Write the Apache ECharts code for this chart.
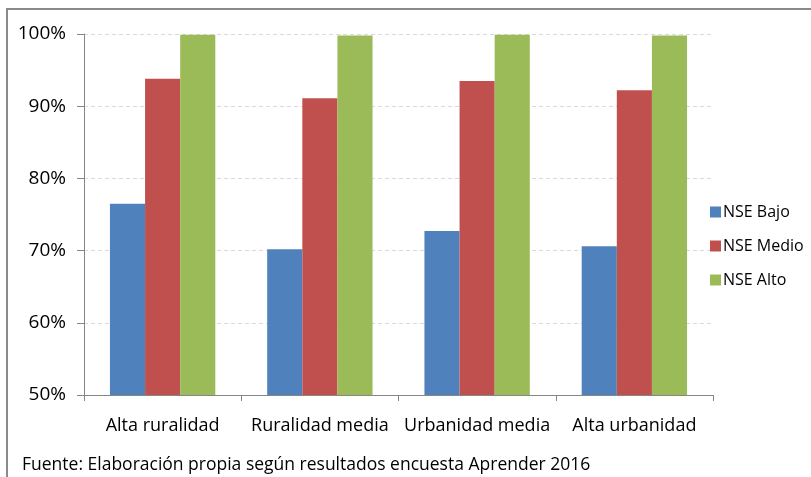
<!DOCTYPE html>
<html><head><meta charset="utf-8">
<script src="https://cdn.jsdelivr.net/npm/echarts@6/dist/echarts.min.js"></script>
<style>html,body{margin:0;padding:0;background:#fff}#c{width:811px;height:477px}</style>
</head><body><div id="c"></div>
<script>
var categories = ['Alta ruralidad', 'Ruralidad media', 'Urbanidad media', 'Alta urbanidad'];
var nseBajo = [76.5, 70.2, 72.7, 70.6];
var nseMedio = [93.8, 91.1, 93.5, 92.2];
var nseAlto = [99.9, 99.8, 99.9, 99.8];
var seriesNames = ['NSE Bajo', 'NSE Medio', 'NSE Alto'];
var sourceText = 'Fuente: Elaboración propia según resultados encuesta Aprender 2016';

var font = 'Open Sans';
var chart = echarts.init(document.getElementById('c'));
chart.setOption({
  animation: false,
  textStyle: {fontFamily: font},
  color: ['#4f81bd', '#c0504d', '#9bbb59'],
  grid: {left: 84, right: 98, top: 34, bottom: 82},
  legend: {
    orient: 'vertical', left: 705, top: 199, itemWidth: 11, itemHeight: 11, itemGap: 18,
    icon: 'rect', textStyle: {fontSize: 16, color: '#000', fontFamily: font, padding: [0, 0, 0, -3]},
    data: seriesNames
  },
  graphic: [
    {type: 'rect', shape: {x: 7, y: 9, width: 820, height: 480}, style: {fill: 'none', stroke: '#8a8a8a', lineWidth: 2}},
    {type: 'text', left: 22, top: 456, style: {text: sourceText, fontSize: 17.5, fill: '#000', fontFamily: font}}
  ],
  xAxis: {
    type: 'category', data: categories,
    axisLine: {lineStyle: {color: '#868686'}},
    axisTick: {show: true, length: 6, lineStyle: {color: '#868686'}},
    axisLabel: {fontSize: 18, color: '#000', margin: 22, interval: 0}
  },
  yAxis: {
    type: 'value', min: 50, max: 100, interval: 10,
    axisLine: {show: true, lineStyle: {color: '#868686'}},
    axisTick: {show: true, length: 7, lineStyle: {color: '#868686'}},
    axisLabel: {fontSize: 19, color: '#000', margin: 18, formatter: '{value}%'},
    splitLine: {lineStyle: {color: '#d9d9d9', type: [4, 3]}}
  },
  series: [
    {name: seriesNames[0], type: 'bar', data: nseBajo, barGap: '0%', barCategoryGap: '33%'},
    {name: seriesNames[1], type: 'bar', data: nseMedio, barGap: '0%', barCategoryGap: '33%'},
    {name: seriesNames[2], type: 'bar', data: nseAlto, barGap: '0%', barCategoryGap: '33%'}
  ]
});
</script></body></html>
